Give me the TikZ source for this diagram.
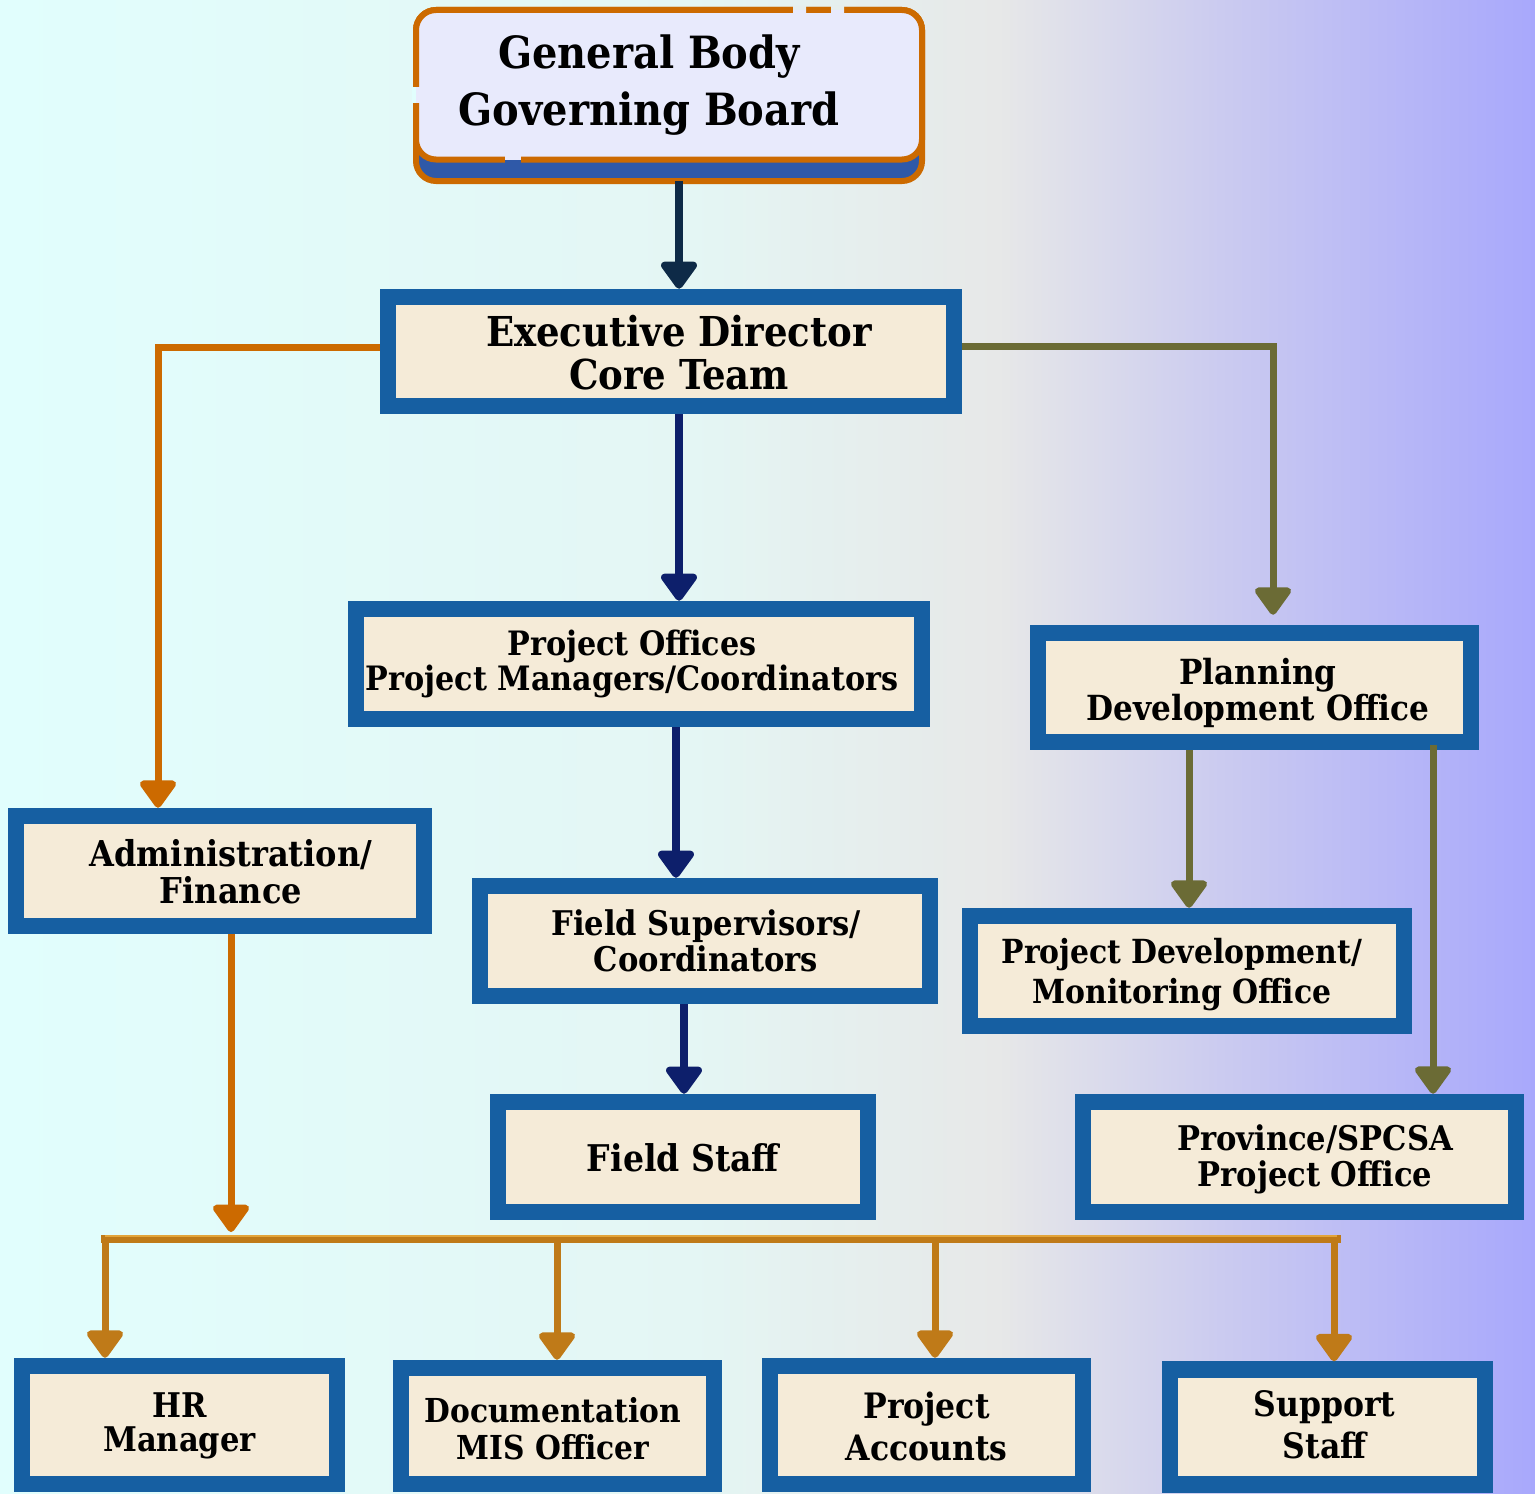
\documentclass[tikz,border=0pt]{standalone}
\usepackage{fontspec}
\setmainfont{DejaVu Serif Condensed}[BoldFont={DejaVu Serif Condensed Bold}]
\usetikzlibrary{arrows.meta}
\definecolor{boxblue}{HTML}{165FA2}
\definecolor{beige}{HTML}{F5EBD8}
\definecolor{gbblue}{HTML}{2F59A8}
\definecolor{gbor}{HTML}{CC6A00}
\definecolor{gblav}{HTML}{E8EAFC}
\definecolor{navyA}{HTML}{0E2A47}
\definecolor{navyB}{HTML}{0D1F6B}
\definecolor{orline}{HTML}{CC6A00}
\definecolor{olive}{HTML}{6B6B35}
\definecolor{busgold}{HTML}{BF7A18}
\definecolor{buslight}{HTML}{E3A43A}
\definecolor{bgA}{HTML}{E1FEFD}
\definecolor{bgB}{HTML}{E4F6F4}
\definecolor{bgC}{HTML}{E7E8E8}
\definecolor{bgD}{HTML}{CACAF0}
\definecolor{bgE}{HTML}{A8A8FC}
\pgfdeclarehorizontalshading{bgshade}{100bp}{color(0bp)=(bgA); color(25bp)=(bgA); color(47.5bp)=(bgB); color(57.5bp)=(bgC); color(65bp)=(bgD); color(75bp)=(bgE); color(100bp)=(bgE)}
\newcommand\fsz[2]{\fontsize{#1}{#2}\selectfont\bfseries}
% #1: horizontal shift (pt = px), #2: downward shift (pt = px)
\newcommand\shtext[3]{\hbox{\kern#1\vbox{\kern#2\hbox{\begin{tabular}{@{}c@{}}#3\end{tabular}}}}}
\begin{document}
\begin{tikzpicture}[x=0.5pt,y=-0.5pt,
  box/.style={draw=boxblue, line width=8.25pt, fill=beige, inner sep=0pt, align=center},
  tipx/.style={-{Triangle[width=20.5pt,length=15pt,round]}},
  navyline/.style={draw=navyA, line width=4pt, tipx},
  navyline2/.style={draw=navyB, line width=4pt, tipx},
  orline/.style={draw=orline, line width=3.5pt, tipx},
  oliveline/.style={draw=olive, line width=3.5pt, tipx},
  busline/.style={draw=busgold, line width=4pt},
  busarrow/.style={draw=busgold, line width=3.5pt, tipx}]
\useasboundingbox (0,0) rectangle (1535,1493);
\shade[shading=bgshade] (0,0) rectangle (1535,1493);
% top box
\node[minimum width=253pt, minimum height=85.5pt, inner sep=0pt] (gb) at (669,95.5) {};
\draw[line width=3pt, draw=gbor, fill=gbblue, rounded corners=10pt] (416,10) rectangle (922,181);
\draw[line width=3pt, draw=gbor, fill=gblav, rounded corners=10pt] (416,10) rectangle (922,159.5);
% gaps in the orange outline
\fill[bgC!60!bgB] (793,6) rectangle (806,10) (831,6) rectangle (844,10);
\fill[gblav] (793,10) rectangle (806,14) (831,10) rectangle (844,14);
\fill[bgA] (412,87) rectangle (416,103);
\fill[gblav] (416,87) rectangle (420,103);
\fill[gblav] (505,156) rectangle (521,159.5);
\fill[gbblue] (505,159.5) rectangle (521,163);
\node[font=\fsz{22.2}{28.5}, align=center] (gbt) at (649,85) {General Body\\Governing Board};
% boxes
\node[box, minimum width=283pt, minimum height=54.5pt, font=\fsz{20.6}{21}] (ed) at (671,351.5) {\shtext{8pt}{7pt}{Executive Director\\Core Team}};
\node[box, minimum width=283pt, minimum height=55pt, font=\fsz{16.8}{16}] (po) at (639,664) {\shtext{-7pt}{1pt}{Project Offices\\Project Managers/Coordinators}};
\node[box, minimum width=216.5pt, minimum height=54.5pt, font=\fsz{17.3}{16.5}] (pl) at (1254.5,687.5) {\shtext{3.5pt}{6.5pt}{Planning\\Development Office}};
\node[box, minimum width=204pt, minimum height=55pt, font=\fsz{17.8}{16.5}] (ad) at (220,871) {\shtext{11pt}{5pt}{Administration/\\Finance}};
\node[box, minimum width=225pt, minimum height=55pt, font=\fsz{17}{17.5}] (fs) at (705,941) {\shtext{1pt}{4.5pt}{Field Supervisors/\\Coordinators}};
\node[box, minimum width=217pt, minimum height=55pt, font=\fsz{16.6}{20}] (pd) at (1187,971) {\shtext{-5pt}{4pt}{Project Development/\\Monitoring Office}};
\node[box, minimum width=185pt, minimum height=55pt, font=\fsz{18.4}{17}] (fst) at (683,1157) {\shtext{0pt}{6pt}{Field Staff}};
\node[box, minimum width=216.5pt, minimum height=55pt, font=\fsz{17}{16.5}] (pr) at (1299.5,1157) {\shtext{15.5pt}{3.5pt}{Province/SPCSA\\Project Office}};
\node[box, minimum width=157.5pt, minimum height=59pt, font=\fsz{17}{16.5}] (hr) at (179.5,1425) {\shtext{0pt}{2pt}{HR\\Manager}};
\node[box, minimum width=156.5pt, minimum height=58pt, font=\fsz{16.5}{18.5}] (doc) at (557.5,1426) {\shtext{-4.5pt}{8pt}{Documentation\\MIS Officer}};
\node[box, minimum width=156.5pt, minimum height=59pt, font=\fsz{17.5}{21}] (pa) at (926.5,1425) {\shtext{0pt}{6pt}{Project\\Accounts}};
\node[box, minimum width=157.5pt, minimum height=57.5pt, font=\fsz{17.5}{21}] (ss) at (1327.5,1427) {\shtext{-3pt}{2pt}{Support\\Staff}};
% connectors
\draw[navyline] ([xshift=5pt]gb.south) coordinate (a1) -- (a1 |- ed.north);
\draw[navyline2] ([xshift=4pt]ed.south) coordinate (a2) -- (a2 |- po.north);
\draw[navyline2] ([xshift=18.5pt]po.south) coordinate (a3) -- (a3 |- fs.north);
\draw[navyline2] ([xshift=-10.5pt]fs.south) coordinate (a4) -- (a4 |- fst.north);
\draw[orline] ([yshift=2.25pt]ed.west) -| ([xshift=-31pt]ad.north);
\draw[oliveline, shorten >=5pt] ([yshift=2.75pt]ed.east) -| ([xshift=9.25pt]pl.north);
\draw[oliveline] ([xshift=-32.75pt]pl.south) coordinate (a5) -- (a5 |- pd.north);
\draw[oliveline] ([xshift=89.25pt,yshift=2.5pt]pl.south) coordinate (a6) -- (a6 |- pr.north);
\coordinate (busin) at (231,1232);
\draw[orline] ([xshift=5.5pt]ad.south) -- (busin);
\coordinate (d1) at (105,1238.5);
\coordinate (d2) at (557,1238.5);
\coordinate (d3) at (935,1238.5);
\coordinate (d4) at (1334,1238.5);
\coordinate (br) at (1337,1238.5);
\draw[busline, line cap=rect] (d1) -- (br);
\draw[busarrow] (d1) -- (d1 |- hr.north);
\draw[busarrow] (d2) -- (d2 |- doc.north);
\draw[busarrow] (d3) -- (d3 |- pa.north);
\draw[busarrow] (d4) -- (d4 |- ss.north);
\draw[draw=buslight, line width=1.2pt] ([yshift=1.3pt]d1) -- ([yshift=1.3pt]br);
\end{tikzpicture}
\end{document}
